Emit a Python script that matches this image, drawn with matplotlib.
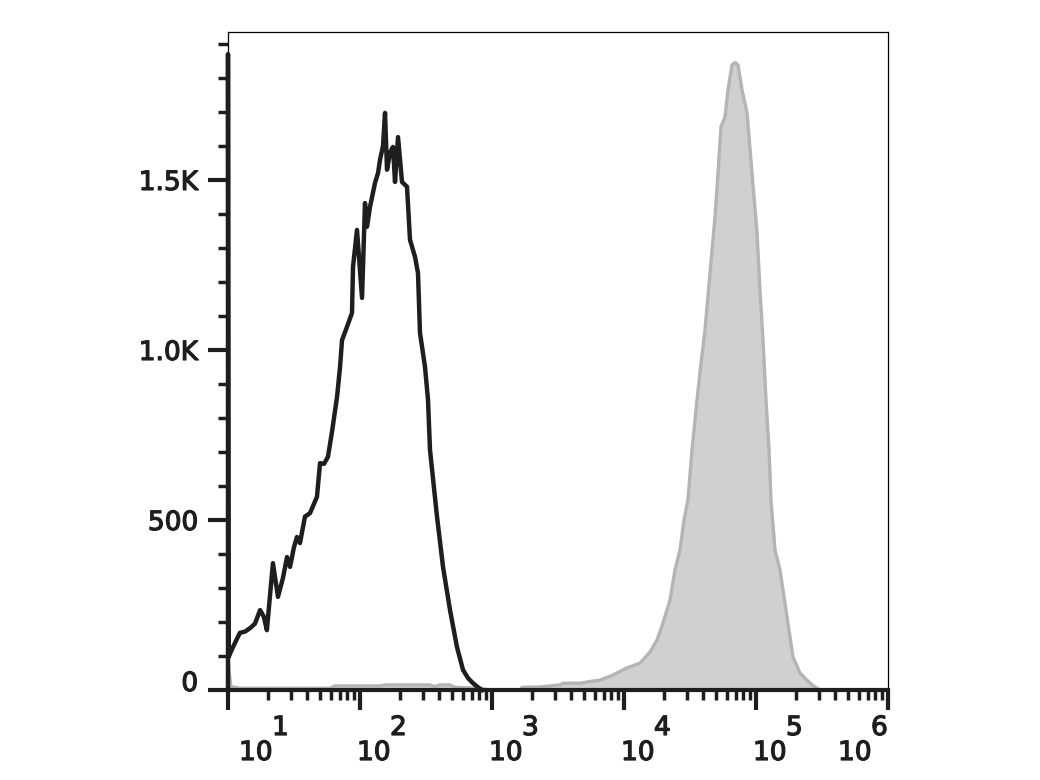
import numpy as np
import matplotlib
matplotlib.use('Agg')
import matplotlib.pyplot as plt
import matplotlib.transforms as mtransforms
import matplotlib.patheffects as pe

# black (unstained) histogram: fluorescence intensity, event count
black_x = [10, 10, 10.1, 10.9, 12.3, 13.5, 14.7, 16.0, 17.5, 18.7, 19.7, 21.9, 23.9, 26.1,
           28.0, 29.5, 31.6, 33.3, 35.1, 38.3, 41.8, 47.2, 49.8, 53.4, 57.2, 61.4, 67.0,
           70.6, 73.1, 79.7, 87.0, 88.5, 94.9, 103.6, 109.1, 113.0, 119.1, 129.9, 136.9,
           141.8, 149.4, 154.7, 160.2, 168.8, 177.8, 184.2, 194.1, 208.1, 227.0, 239.2,
           261.0, 275.0, 284.8, 310.8, 327.5, 339.1, 383.1, 425.5, 480.8, 543.0, 603.2,
           658.0, 718.0, 783.4, 840.0]
black_y = [0, 1870, 97, 126, 168, 172, 182, 195, 235, 215, 176, 373, 274, 330,
           391, 362, 420, 450, 432, 510, 520, 568, 667, 665, 686, 760, 862,
           950, 1029, 1068, 1109, 1244, 1353, 1153, 1432, 1362, 1421, 1491, 1520,
           1559, 1600, 1697, 1530, 1580, 1597, 1494, 1626, 1494, 1480, 1324,
           1274, 1226, 1050, 950, 853, 706, 510, 362, 235, 126, 59,
           35, 20, 8, 0]

# grey (stained) histogram
grey_x = [10, 10.5, 12.3, 35.1, 59.3, 64.6, 141.8, 154.7, 339, 370, 404, 481, 524, 811, 966,
          1630, 1688, 2310, 3275, 3452, 4642, 5526, 6579, 8254, 10540, 13220, 15740,
          17780, 19750, 22310, 24340, 26560, 28480, 30530, 32750, 35730, 38310, 41080,
          44820, 48920, 51540, 54300, 58240, 61380, 65800, 69340, 73060, 78340, 85480,
          93260, 101800, 107200, 113000, 119100, 125500, 129900, 139300, 152000, 171800,
          190700, 215400, 256600, 279900, 305300]
grey_y = [90, 10, 5, 5, 5, 12, 12, 15, 15, 10, 15, 15, 8, 5, 0,
          0, 8, 9, 15, 20, 20, 25, 29, 44, 65, 79, 112,
          147, 197, 265, 353, 412, 500, 559, 706, 853, 960, 1059,
          1226, 1391, 1520, 1656, 1685, 1765, 1838, 1845, 1838, 1765, 1697,
          1520, 1344, 1176, 1029, 853, 706, 559, 412, 353, 215,
          97, 50, 20, 9, 0]

y_ticks = [0, 500, 1000, 1500]
y_ticklabels = ['0', '500', '1.0K', '1.5K']
decades = [1, 2, 3, 4, 5, 6]

ink = '#1e1e1e'
bold = [pe.withStroke(linewidth=0.9, foreground=ink)]

fig = plt.figure(figsize=(10.4, 7.8), dpi=100)
ax = fig.add_axes([228/1040, 90/780, 660/1040, 658/780])

ax.fill_between(grey_x, grey_y, 0, color='#d0d0d0', lw=0, zorder=2)
ax.plot(grey_x, grey_y, color='#b4b4b4', lw=2.4, zorder=3)
ax.plot(black_x, black_y, color=ink, lw=3.2, zorder=6, clip_on=False)

ax.set_xscale('log')
ax.set_xlim(10, 1e6)
ax.set_ylim(0, 1935)

for s in ['top', 'right', 'left']:
    ax.spines[s].set_linewidth(0.9)
    ax.spines[s].set_color('black')
ax.spines['bottom'].set_linewidth(3.0)
ax.spines['bottom'].set_color(ink)
ax.spines['bottom'].set_zorder(5)

ax.set_yticks(y_ticks)
ax.set_yticklabels(y_ticklabels)
ax.set_yticks(np.arange(0, 1935, 100), minor=True)
ax.tick_params(axis='y', which='major', length=14.5, width=3, color=ink,
               labelsize=19, labelcolor=ink, pad=7)
ax.tick_params(axis='y', which='minor', length=7, width=2.5, color=ink)
for lab in ax.get_yticklabels():
    lab.set_path_effects(bold)
# the "0" label sits a little higher than its tick
zero = ax.get_yticklabels()[0]
zero.set_transform(zero.get_transform() + mtransforms.ScaledTranslation(0, 9/100, fig.dpi_scale_trans))

ax.set_xticks([10.0**n for n in decades])
ax.set_xticklabels([])
ax.tick_params(axis='x', which='major', length=14.5, width=3, color=ink)
ax.tick_params(axis='x', which='minor', length=7, width=2.5, color=ink)

# x labels: "10" with a full-size exponent raised beside it
shifts = {1: 11, 6: -50}
for n in decades:
    dx = shifts.get(n, -3)
    ax.annotate('10', xy=(10.0**n, 0), xycoords=('data', 'axes fraction'),
                xytext=(dx, -70), textcoords='offset pixels', ha='left', va='baseline',
                fontsize=19, color=ink, annotation_clip=False, path_effects=bold)
    ax.annotate(str(n), xy=(10.0**n, 0), xycoords=('data', 'axes fraction'),
                xytext=(dx + 33, -45), textcoords='offset pixels', ha='left', va='baseline',
                fontsize=19, color=ink, annotation_clip=False, path_effects=bold)

fig.savefig('out.png', dpi=100)
